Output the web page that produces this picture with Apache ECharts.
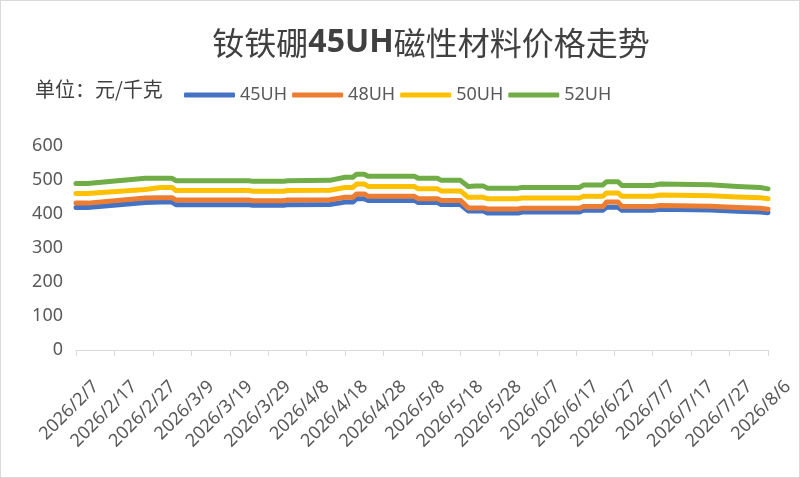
<!DOCTYPE html>
<html>
<head>
<meta charset="utf-8">
<script src="https://cdn.jsdelivr.net/npm/echarts@6/dist/echarts.min.js"></script>
<style>
html,body{margin:0;padding:0;background:#fff;}
#c{width:798px;height:476px;border:1px solid #d9d9d9;}
</style>
</head>
<body>
<div id="c"></div>
<script>
// Axis range: daily dates from 2026/2/7 to 2026/8/6
const startDate = '2026/2/7';
const dayCount = 181;
const labelEvery = 10;
// Dates at which the price lines change (breakpoints)
const pointDates = ['2026/2/7','2026/2/10','2026/2/25','2026/3/1','2026/3/4','2026/3/5','2026/3/24','2026/3/25','2026/4/2','2026/4/3','2026/4/14','2026/4/18','2026/4/20','2026/4/21','2026/4/23','2026/4/24','2026/5/6','2026/5/7','2026/5/12','2026/5/13','2026/5/18','2026/5/20','2026/5/22','2026/5/24','2026/5/25','2026/6/2','2026/6/3','2026/6/18','2026/6/19','2026/6/24','2026/6/25','2026/6/28','2026/6/29','2026/7/7','2026/7/9','2026/7/22','2026/7/29','2026/8/4','2026/8/6'];
const uh45 = [419,419,434,435,435,427,427,426,426,427,428,435,435,445,445,440,440,434,434,428,428,409,409,409,403,403,406,406,411,411,420,420,411,411,414,412,408,406,404];
const uh48 = [432,432,447,448,448,441,441,439,439,441,442,449,449,459,459,452,452,445,445,440,440,418,418,418,415,415,417,417,422,422,435,435,422,422,425,423,419,417,414];
const uh50 = [460,460,472,478,478,469,469,467,467,469,470,478,478,488,488,481,481,474,474,468,468,449,449,449,445,445,447,447,452,452,462,462,452,452,456,454,450,448,445];
const uh52 = [490,490,505,505,505,498,498,496,496,498,499,508,508,517,517,511,511,505,505,499,499,481,482,482,476,476,478,478,485,485,495,495,484,484,488,486,481,478,474];
const seriesNames = ['45UH','48UH','50UH','52UH'];
const seriesColors = ['#4472C4','#ED7D31','#FFC000','#70AD47'];
const yTicks = {min:0, max:600, interval:100};

const categories = [];
(function(){
  const p = startDate.split('/').map(Number);
  const d0 = new Date(Date.UTC(p[0], p[1]-1, p[2]));
  for (let i = 0; i < dayCount; i++) {
    const d = new Date(d0.getTime() + i*86400000);
    categories.push(d.getUTCFullYear() + '/' + (d.getUTCMonth()+1) + '/' + d.getUTCDate());
  }
})();

const allValues = [uh45, uh48, uh50, uh52];
const series = seriesNames.map((n, k) => ({
  name: n,
  type: 'line',
  symbol: 'none',
  data: pointDates.map((dt, i) => [dt, allValues[k][i]]),
  lineStyle: {width: 5, color: seriesColors[k], cap: 'round', join: 'round'},
  itemStyle: {color: seriesColors[k]}
}));

const chart = echarts.init(document.getElementById('c'));
chart.setOption({
  animation: false,
  backgroundColor: '#fff',
  title: {
    text: '{c|钕铁硼}{b|45UH}{c|磁性材料价格走势}',
    left: 430, textAlign: 'center', top: 26, padding: 0,
    textStyle: {
      rich: {
        c: {fontFamily: 'Noto Sans CJK SC', fontSize: 32, color: '#404040', fontWeight: 'normal'},
        b: {fontFamily: 'Noto Sans', fontSize: 32, color: '#404040', fontWeight: 'bold'}
      }
    }
  },
  graphic: [{
    type: 'text', left: 34, top: 78,
    style: {text: '单位：元/千克', font: '20px "Noto Sans CJK SC"', fill: '#404040'}
  }],
  legend: {
    left: 183, top: 85, padding: 0,
    itemWidth: 51, itemHeight: 5, itemGap: 5,
    icon: 'roundRect',
    textStyle: {fontFamily: 'Noto Sans', fontSize: 18, color: '#595959'},
    data: seriesNames
  },
  grid: {left: 75, right: 31, top: 145, bottom: 127, containLabel: false, outerBoundsMode: 'none'},
  xAxis: {
    type: 'category',
    data: categories,
    boundaryGap: false,
    axisLine: {lineStyle: {color: '#d9d9d9', width: 1}},
    axisTick: {show: true, interval: labelEvery - 1, length: 6, lineStyle: {color: '#d9d9d9'}},
    axisLabel: {interval: 0, rotate: 45, fontFamily: 'Noto Sans', fontSize: 18, color: '#595959',
      margin: 14, verticalAlign: 'top', lineHeight: 56, hideOverlap: false,
      formatter: (v, i) => (i % labelEvery === 0 ? v : '')},
    splitLine: {show: false}
  },
  yAxis: {
    type: 'value',
    min: yTicks.min, max: yTicks.max, interval: yTicks.interval,
    axisLine: {show: false}, axisTick: {show: false},
    splitLine: {show: false},
    axisLabel: {fontFamily: 'Noto Sans', fontSize: 18, color: '#595959', margin: 13}
  },
  series: series
});
</script>
</body>
</html>
